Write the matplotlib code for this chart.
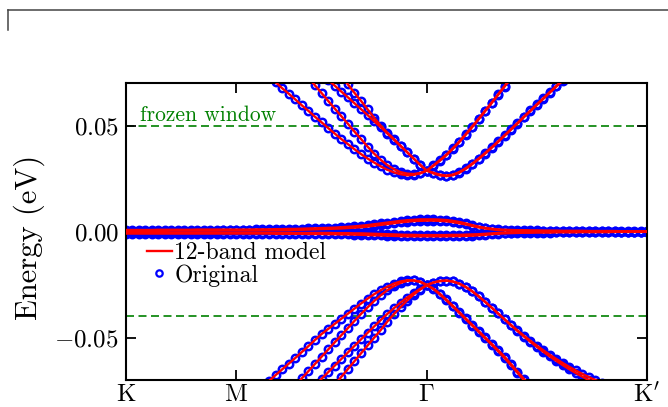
import numpy as np
import matplotlib
matplotlib.use("Agg")
import matplotlib.pyplot as plt
from matplotlib.lines import Line2D

plt.rcParams["font.family"] = "serif"
plt.rcParams["font.serif"] = ["cmr10"]
plt.rcParams["mathtext.fontset"] = "cm"
plt.rcParams["axes.unicode_minus"] = False

# --- k path: K -> M -> Gamma -> K' ---
k_nodes = [0.0, 0.5, 1.366, 2.366]
k_labels = [r"$\mathrm{K}$", r"$\mathrm{M}$", r"$\Gamma$", r"$\mathrm{K}'$"]
seg_steps = [17, 29, 34]
k = np.concatenate([np.linspace(k_nodes[0], k_nodes[1], seg_steps[0] + 1),
                    np.linspace(k_nodes[1], k_nodes[2], seg_steps[1] + 1)[1:],
                    np.linspace(k_nodes[2], k_nodes[3], seg_steps[2] + 1)[1:]])

frozen_top = 0.05
frozen_bot = -0.04

# --- flat bands (eV) ---
flat_1 = [0.0008, 0.0008, 0.0008, 0.0008, 0.0008, 0.0009, 0.0009, 0.0009, 0.0009, 0.0009, 0.0009, 0.0010, 0.0010, 0.0010, 0.0010, 0.0010, 0.0010, 0.0010,
          0.0010, 0.0010, 0.0011, 0.0011, 0.0011, 0.0012, 0.0012, 0.0013, 0.0013, 0.0014, 0.0015, 0.0016, 0.0017, 0.0018, 0.0019, 0.0021, 0.0023, 0.0025,
          0.0028, 0.0031, 0.0035, 0.0039, 0.0043, 0.0047, 0.0051, 0.0054, 0.0056, 0.0058, 0.0058,
          0.0058, 0.0057, 0.0055, 0.0051, 0.0046, 0.0039, 0.0031, 0.0024, 0.0018, 0.0014, 0.0011, 0.0009, 0.0008, 0.0007, 0.0007, 0.0006, 0.0006, 0.0005,
          0.0005, 0.0005, 0.0004, 0.0004, 0.0004, 0.0004, 0.0003, 0.0003, 0.0003, 0.0003, 0.0003, 0.0002, 0.0002, 0.0002, 0.0002, 0.0002]
flat_2 = [0.0004, 0.0004, 0.0004, 0.0004, 0.0004, 0.0004, 0.0004, 0.0005, 0.0005, 0.0005, 0.0005, 0.0005, 0.0005, 0.0005, 0.0005, 0.0006, 0.0006, 0.0006,
          0.0006, 0.0006, 0.0006, 0.0007, 0.0007, 0.0007, 0.0008, 0.0008, 0.0009, 0.0009, 0.0010, 0.0011, 0.0012, 0.0013, 0.0014, 0.0015, 0.0017, 0.0019,
          0.0021, 0.0024, 0.0028, 0.0032, 0.0036, 0.0040, 0.0044, 0.0047, 0.0050, 0.0051, 0.0052,
          0.0052, 0.0051, 0.0049, 0.0045, 0.0040, 0.0034, 0.0027, 0.0020, 0.0015, 0.0011, 0.0008, 0.0006, 0.0005, 0.0004, 0.0004, 0.0003, 0.0003, 0.0003,
          0.0002, 0.0002, 0.0002, 0.0002, 0.0001, 0.0001, 0.0001, 0.0001, 0.0001, 0.0001, 0.0001, 0.0000, 0.0000, 0.0000, 0.0000, 0.0000]
flat_3 = [-0.0004, -0.0004, -0.0004, -0.0004, -0.0004, -0.0004, -0.0004, -0.0005, -0.0005, -0.0005, -0.0005, -0.0005, -0.0005, -0.0005, -0.0005, -0.0005, -0.0005, -0.0005,
          -0.0005, -0.0005, -0.0005, -0.0005, -0.0005, -0.0005, -0.0005, -0.0005, -0.0006, -0.0006, -0.0006, -0.0006, -0.0006, -0.0006, -0.0007, -0.0007, -0.0007, -0.0008,
          -0.0008, -0.0009, -0.0010, -0.0011, -0.0012, -0.0013, -0.0014, -0.0015, -0.0015, -0.0016, -0.0016,
          -0.0016, -0.0016, -0.0016, -0.0015, -0.0015, -0.0014, -0.0013, -0.0012, -0.0010, -0.0008, -0.0006, -0.0005, -0.0004, -0.0003, -0.0003, -0.0002, -0.0002, -0.0002,
          -0.0002, -0.0001, -0.0001, -0.0001, -0.0001, -0.0001, -0.0001, -0.0001, -0.0001, -0.0001, 0.0000, 0.0000, 0.0000, 0.0000, 0.0000, 0.0000]
flat_4 = [-0.0009, -0.0009, -0.0009, -0.0009, -0.0009, -0.0009, -0.0009, -0.0009, -0.0009, -0.0009, -0.0009, -0.0009, -0.0009, -0.0009, -0.0009, -0.0009, -0.0009, -0.0009,
          -0.0009, -0.0009, -0.0009, -0.0009, -0.0009, -0.0010, -0.0010, -0.0010, -0.0010, -0.0010, -0.0011, -0.0011, -0.0011, -0.0012, -0.0012, -0.0013, -0.0013, -0.0014,
          -0.0015, -0.0016, -0.0017, -0.0018, -0.0019, -0.0020, -0.0021, -0.0022, -0.0022, -0.0022, -0.0022,
          -0.0022, -0.0022, -0.0022, -0.0021, -0.0021, -0.0020, -0.0019, -0.0017, -0.0015, -0.0012, -0.0010, -0.0008, -0.0007, -0.0006, -0.0005, -0.0005, -0.0004, -0.0004,
          -0.0004, -0.0003, -0.0003, -0.0003, -0.0003, -0.0002, -0.0002, -0.0002, -0.0002, -0.0002, -0.0001, -0.0001, -0.0001, -0.0001, -0.0001, -0.0001]

# --- conduction bands (eV), None = off the plotted window ---
cond_1 = [None] * 22 + [0.0733, 0.0706, 0.0677, 0.0651, 0.0624, 0.0596, 0.0570, 0.0542, 0.0516, 0.0489, 0.0463, 0.0437, 0.0413,
                        0.0389, 0.0366, 0.0345, 0.0326, 0.0308, 0.0292, 0.0280, 0.0271, 0.0266, 0.0268, 0.0275, 0.0288,
                        0.0310, 0.0334, 0.0360, 0.0390, 0.0422, 0.0457, 0.0493, 0.0530, 0.0568, 0.0606, 0.0645, 0.0684,
                        0.0723, 0.0762] + [None] * 20
cond_2 = [None] * 26 + [0.0800, 0.0762, 0.0727, 0.0690, 0.0654, 0.0617, 0.0581, 0.0545, 0.0509, 0.0472, 0.0437, 0.0401, 0.0368,
                        0.0339, 0.0314, 0.0295, 0.0281, 0.0274, 0.0272, 0.0277, 0.0288,
                        0.0313, 0.0337, 0.0363, 0.0393, 0.0425, 0.0460, 0.0496, 0.0533, 0.0571, 0.0609, 0.0648, 0.0687,
                        0.0726, 0.0765] + [None] * 20
cond_3 = [None] * 28 + [0.0797, 0.0770, 0.0743, 0.0716, 0.0689, 0.0661, 0.0634, 0.0606, 0.0578, 0.0550, 0.0521, 0.0493, 0.0463,
                        0.0434, 0.0404, 0.0375, 0.0345, 0.0315, 0.0288,
                        0.0275, 0.0266, 0.0262, 0.0266, 0.0278, 0.0296, 0.0318, 0.0342, 0.0368, 0.0395, 0.0423, 0.0452,
                        0.0481, 0.0510, 0.0540, 0.0569, 0.0598, 0.0627, 0.0656, 0.0685, 0.0713, 0.0742] + [None] * 12
cond_4 = [None] * 31 + [0.0810, 0.0775, 0.0735, 0.0695, 0.0655, 0.0617, 0.0577, 0.0537, 0.0500, 0.0467, 0.0437, 0.0406, 0.0376,
                        0.0345, 0.0315, 0.0288,
                        0.0278, 0.0269, 0.0265, 0.0269, 0.0281, 0.0299, 0.0321, 0.0345, 0.0371, 0.0398, 0.0426, 0.0455,
                        0.0484, 0.0513, 0.0543, 0.0572, 0.0601, 0.0630, 0.0659, 0.0688, 0.0716, 0.0745] + [None] * 12

# --- valence bands (eV) ---
val_1 = [None] * 21 + [-0.0733, -0.0705, -0.0677, -0.0650, -0.0623, -0.0596, -0.0568, -0.0540, -0.0511, -0.0483, -0.0459, -0.0435,
                       -0.0411, -0.0387, -0.0363, -0.0339, -0.0316, -0.0295, -0.0276, -0.0259, -0.0245, -0.0235, -0.0229,
                       -0.0230, -0.0237, -0.0252,
                       -0.0268, -0.0292, -0.0320, -0.0349, -0.0379, -0.0409, -0.0439, -0.0469, -0.0499, -0.0529, -0.0559,
                       -0.0590, -0.0625, -0.0660, -0.0695, -0.0730] + [None] * 18
val_2 = [None] * 26 + [-0.0727, -0.0692, -0.0658, -0.0624, -0.0590, -0.0556, -0.0522, -0.0489, -0.0455, -0.0421, -0.0388, -0.0357,
                       -0.0327, -0.0300, -0.0276, -0.0257, -0.0242, -0.0232, -0.0230, -0.0236, -0.0252,
                       -0.0271, -0.0296, -0.0324, -0.0353, -0.0383, -0.0413, -0.0443, -0.0473, -0.0503, -0.0533, -0.0564,
                       -0.0596, -0.0631, -0.0666, -0.0701, -0.0736] + [None] * 18
val_3 = [None] * 29 + [-0.0726, -0.0694, -0.0663, -0.0632, -0.0601, -0.0570, -0.0539, -0.0508, -0.0477, -0.0447, -0.0417, -0.0388,
                       -0.0361, -0.0335, -0.0311, -0.0290, -0.0270, -0.0252,
                       -0.0240, -0.0233, -0.0231, -0.0235, -0.0245, -0.0261, -0.0281, -0.0305, -0.0331, -0.0358, -0.0386,
                       -0.0413, -0.0440, -0.0466, -0.0491, -0.0515, -0.0538, -0.0560, -0.0581, -0.0601, -0.0620, -0.0638,
                       -0.0655, -0.0671, -0.0686, -0.0700, -0.0713, -0.0726] + [None] * 6
val_4 = [None] * 32 + [-0.0722, -0.0685, -0.0648, -0.0611, -0.0574, -0.0537, -0.0500, -0.0464, -0.0424, -0.0389, -0.0356, -0.0325,
                       -0.0297, -0.0273, -0.0252,
                       -0.0240, -0.0233, -0.0231, -0.0235, -0.0245, -0.0261, -0.0281, -0.0305, -0.0331, -0.0358, -0.0386,
                       -0.0414, -0.0442, -0.0469, -0.0495, -0.0520, -0.0544, -0.0567, -0.0589, -0.0610, -0.0630, -0.0649,
                       -0.0667, -0.0684, -0.0700, -0.0715] + [None] * 8

bands = [flat_1, flat_2, flat_3, flat_4, cond_1, cond_2, cond_3, cond_4, val_1, val_2, val_3, val_4]

fig = plt.figure(figsize=(6.68, 4.07), dpi=100)
ax = fig.add_axes([0.1886, 0.0663, 0.78, 0.729])

# frozen window
for e0 in (frozen_top, frozen_bot):
    ax.axhline(e0, color="green", lw=1.2, dashes=(4.8, 2.7), zorder=1)
ax.text(0.064, 0.0503, "frozen window", color="green", fontsize=15.5, va="bottom", ha="left")

# original (circles) then the model (red lines)
for i, b in enumerate(bands):
    e = np.array(b, dtype=float)
    ax.plot(k, e, "o", mfc="none", mec="blue", ms=5.3, mew=1.8, zorder=2,
            label="Original" if i == 0 else None)
for i, b in enumerate(bands):
    e = np.array(b, dtype=float)
    ax.plot(k, e, "-", color="red", lw=1.7, zorder=3,
            label="12-band model" if i == 0 else None)

ax.set_xlim(k_nodes[0], k_nodes[-1])
ax.set_ylim(-0.07, 0.07)
ax.set_xticks(k_nodes)
ax.set_xticklabels(k_labels, fontsize=18)
ax.set_yticks([-0.05, 0.0, 0.05])
ax.set_yticklabels([r"$-0.05$", r"$0.00$", r"$0.05$"], fontsize=18)
ax.tick_params(direction="in", length=7, width=1.3, top=True, right=True)
ax.tick_params(axis="x", pad=2.5)
ax.tick_params(axis="y", pad=5)
for s in ax.spines.values():
    s.set_linewidth(1.5)
ax.set_ylabel("Energy (eV)", fontsize=22)
ax.yaxis.set_label_coords(-0.155, 0.48)

h, l = ax.get_legend_handles_labels()
leg = ax.legend([h[1], h[0]], [l[1], l[0]], loc="upper left", bbox_to_anchor=(0.04, 0.465),
                frameon=False, fontsize=17, borderpad=0, borderaxespad=0,
                handlelength=1.06, handletextpad=0.1, labelspacing=0.0, numpoints=1)
leg.legend_handles[1].set_markersize(4.6)
leg.legend_handles[1].set_markeredgewidth(1.6)

# stray frame corner at the top left of the figure
fig.add_artist(Line2D([8 / 668, 1.0], [1 - 10 / 407, 1 - 10 / 407], transform=fig.transFigure, color="#444444", lw=1.1))
fig.add_artist(Line2D([8 / 668, 8 / 668], [1 - 10 / 407, 1 - 30 / 407], transform=fig.transFigure, color="#444444", lw=1.1))

fig.savefig("out.png", dpi=100)
